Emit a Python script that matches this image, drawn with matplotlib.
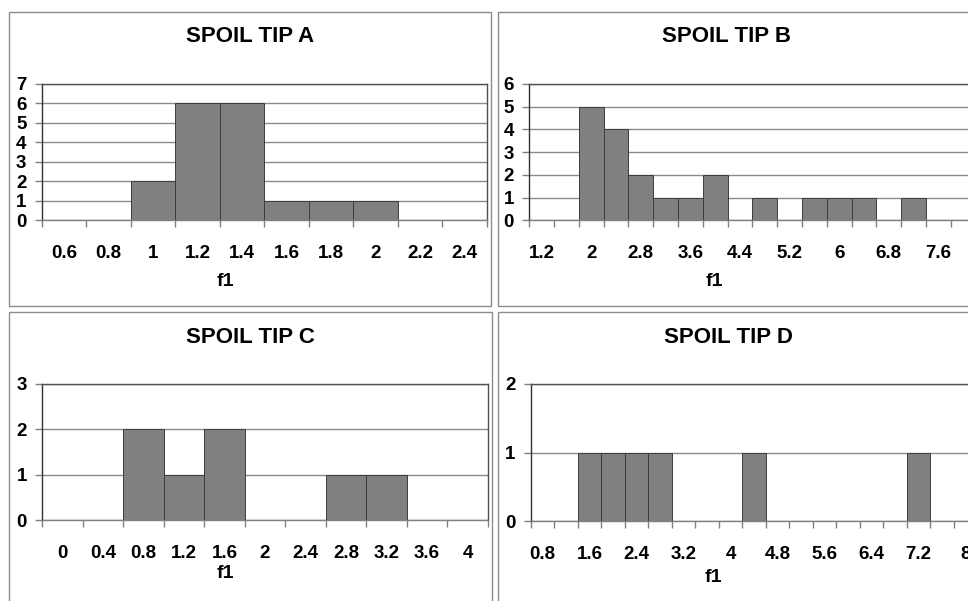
import matplotlib
matplotlib.use('Agg')
import matplotlib.pyplot as plt
from matplotlib.patches import Rectangle

plt.rcParams['font.family'] = ['Liberation Sans', 'DejaVu Sans']
plt.rcParams['font.weight'] = 'bold'

W, H = 968, 601

# category labels (bin values of f1) and counts for each spoil tip
tip_a_bins = ['0.6', '0.8', '1', '1.2', '1.4', '1.6', '1.8', '2', '2.2', '2.4']
tip_a_counts = [0, 0, 2, 6, 6, 1, 1, 1, 0, 0]

tip_b_bins = ['1.2', '1.6', '2', '2.4', '2.8', '3.2', '3.6', '4', '4.4',
              '4.8', '5.2', '5.6', '6', '6.4', '6.8', '7.2', '7.6', '8']
tip_b_counts = [0, 0, 5, 4, 2, 1, 1, 2, 0, 1, 0, 1, 1, 1, 0, 1, 0, 0]

tip_c_bins = ['0', '0.4', '0.8', '1.2', '1.6', '2', '2.4', '2.8', '3.2', '3.6', '4']
tip_c_counts = [0, 0, 2, 1, 2, 0, 0, 1, 1, 0, 0]

tip_d_bins = ['0.8', '1.2', '1.6', '2', '2.4', '2.8', '3.2', '3.6', '4', '4.4',
              '4.8', '5.2', '5.6', '6', '6.4', '6.8', '7.2', '7.6', '8']
tip_d_counts = [0, 0, 1, 1, 1, 1, 0, 0, 0, 1, 0, 0, 0, 0, 0, 0, 1, 0, 0]

titles = ['SPOIL TIP A', 'SPOIL TIP B', 'SPOIL TIP C', 'SPOIL TIP D']


def px_axes(fig, left, top, width, height):
    # place an axes from pixel coords (origin top-left)
    return fig.add_axes([left / W, 1 - (top + height) / H, width / W, height / H])


def draw_hist(ax, bins, counts, ymax, label_every=1):
    n = len(bins)
    ax.bar([i + 0.5 for i in range(n)], counts, width=1.0,
           color='#808080', edgecolor='#3c3c3c', linewidth=0.7, zorder=3)
    ax.set_xlim(0, n)
    ax.set_ylim(0, ymax)
    ax.set_yticks(range(ymax + 1))
    ax.yaxis.grid(True, color='#8a8a8a', linewidth=1.0, zorder=0)
    # category boundaries get the tick marks, centres get the labels
    ax.set_xticks(range(n + 1))
    ax.set_xticklabels([])
    ax.set_xticks([i + 0.5 for i in range(0, n, label_every)], minor=True)
    ax.set_xticklabels(bins[::label_every], minor=True)
    ax.tick_params(axis='x', which='major', length=5, color='#808080', width=1)
    ax.tick_params(axis='x', which='minor', length=0, pad=18, labelsize=13.5)
    ax.tick_params(axis='y', length=5, color='#808080', width=1, pad=6, labelsize=13.5)
    for lab in ax.get_xticklabels(minor=True) + ax.get_yticklabels():
        lab.set_fontweight('bold')
    ax.spines['left'].set_color('#303030')
    ax.spines['bottom'].set_color('#808080')
    ax.spines['top'].set_color('#505050')
    ax.spines['right'].set_color('#505050')
    for s in ax.spines.values():
        s.set_linewidth(1.0)
    ax.set_facecolor('white')


fig = plt.figure(figsize=(W / 100, H / 100), dpi=100)
fig.patch.set_facecolor('white')

# panel frames
frames = [(9, 12, 481.5, 294), (497.5, 12, 500, 294),
          (9, 312, 482.5, 300), (498, 312, 500, 300)]
for x, y, w, h in frames:
    fig.patches.append(Rectangle((x / W, 1 - (y + h) / H), w / W, h / H,
                                 transform=fig.transFigure, fill=False,
                                 edgecolor='#8c8c8c', linewidth=1.0))

ax_a = px_axes(fig, 41.7, 84, 445, 136.3)
draw_hist(ax_a, tip_a_bins, tip_a_counts, 7)

ax_b = px_axes(fig, 529.3, 84, 24.8 * len(tip_b_bins), 136.3)
draw_hist(ax_b, tip_b_bins, tip_b_counts, 6, label_every=2)

ax_c = px_axes(fig, 42.3, 383.7, 445.4, 136.6)
draw_hist(ax_c, tip_c_bins, tip_c_counts, 3)

ax_d = px_axes(fig, 530.7, 384, 23.5 * len(tip_d_bins), 137.3)
draw_hist(ax_d, tip_d_bins, tip_d_counts, 2, label_every=2)

# titles and axis titles
title_pos = [(250, 37), (727, 37), (250, 338), (728, 338)]
for (x, y), t in zip(title_pos, titles):
    fig.text(x / W, 1 - y / H, t, ha='center', va='center',
             fontsize=16, fontweight='bold')

f1_pos = [(225, 281), (714, 281), (225, 574), (713, 578)]
for x, y in f1_pos:
    fig.text(x / W, 1 - y / H, 'f1', ha='center', va='center',
             fontsize=14, fontweight='bold')

plt.savefig('out.png', dpi=100)
